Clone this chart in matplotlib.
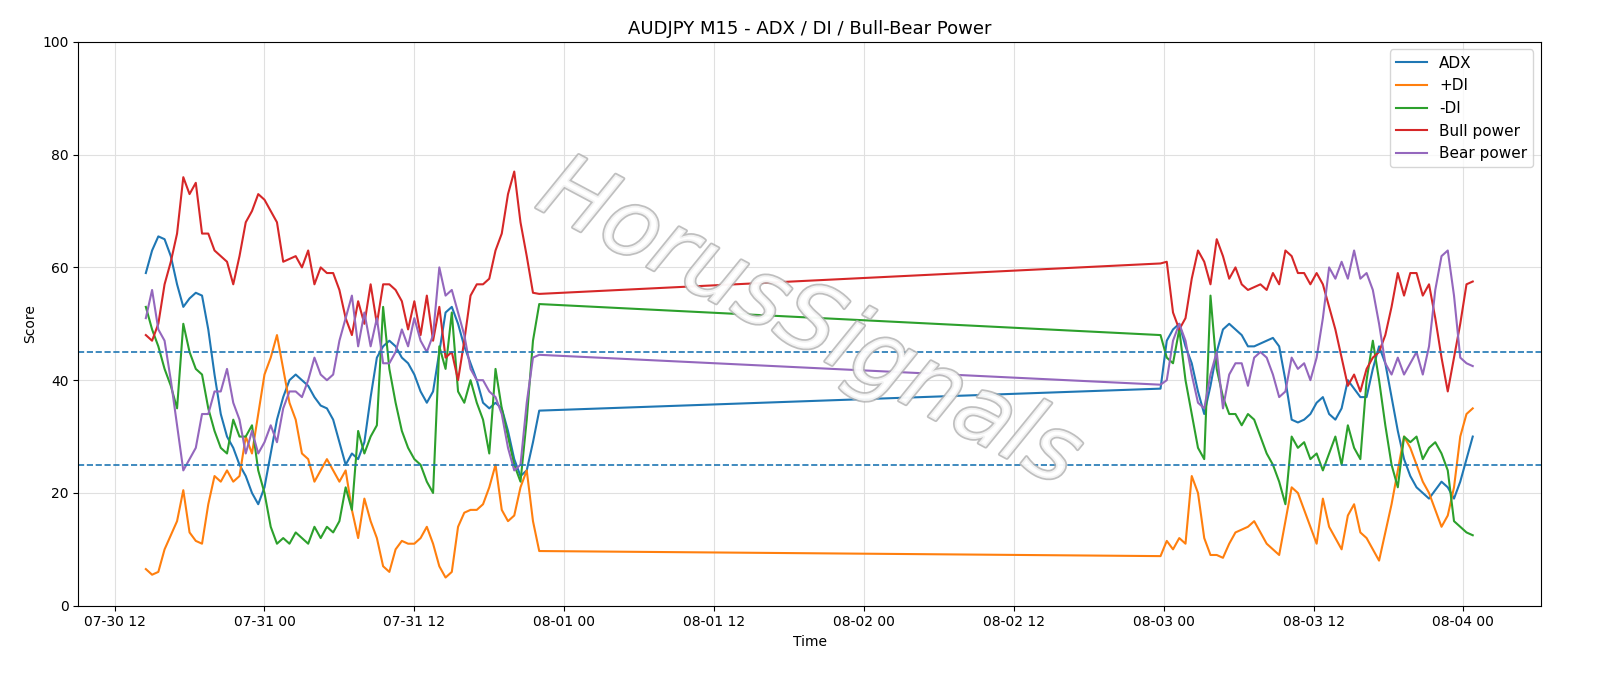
import matplotlib
matplotlib.use("Agg")
import matplotlib.pyplot as plt
import matplotlib.dates as mdates
import matplotlib.patheffects as pe
import pandas as pd
import numpy as np

adx1 = [59,63,65.5,65,62,57,53,54.5,55.5,55,49,41,34,30,28,25,23,20,18,21,27,33,37,40,41,40,39,37,35.5,35,33,29,25,27,26,29,37,44,46,47,46,44,43,41,38,36,38,45,52,53,50,46,43,40,36,35,36,35,31,26,23,24,29,34.6]
adx2 = [38.5,47,49,50,46,43,38,34,39,45,49,50,49,48,46,46,46.5,47,47.5,46,40,33,32.5,33,34,36,37,34,33,35,40,38.5,37,37,42,46,43,37,31,26,23,21,20,19,20.5,22,21,19,22,26,30]
pdi1 = [6.5,5.5,6,10,12.5,15,20.5,13,11.5,11,18,23,22,24,22,23,30,27,34,41,44,48,42,36,33,27,26,22,24,26,24,22,24,17,12,19,15,12,7,6,10,11.5,11,11,12,14,11,7,5,6,14,16.5,17,17,18,21,25,17,15,16,21,24,15,9.7]
pdi2 = [8.8,11.5,10,12,11,23,20,12,9,9,8.5,11,13,13.5,14,15,13,11,10,9,15,21,20,17,14,11,19,14,12,10,16,18,13,12,10,8,13,18,24,30,28,25,22,20,17,14,16,21,30,34,35]
mdi1 = [53,49,46,42,39,35,50,45,42,41,35,31,28,27,33,30,30,32,24,20,14,11,12,11,13,12,11,14,12,14,13,15,21,17,31,27,30,32,53,42,36,31,28,26,25,22,20,46,42,52,38,36,40,36,33,27,42,35,30,25,22,33,47,53.5]
mdi2 = [48,44,43,49,40,34,28,26,55,42,37,34,34,32,34,33,30,27,25,22,18,30,28,29,26,27,24,27,30,25,32,28,26,40,47,40,32,25,21,30,29,30,26,28,29,27,24,15,14,13,12.5]
bull1 = [48,47,50,57,61,66,76,73,75,66,66,63,62,61,57,62,68,70,73,72,70,68,61,61.5,62,60,63,57,60,59,59,56,51,48,54,50,57,50,57,57,56,54,49,54,48,55,47,53,44,45,40,47,55,57,57,58,63,66,73,77,68,62,55.5,55.3]
bull2 = [60.7,61,52,49,51,58,63,61,57,65,62,58,60,57,56,56.5,57,56,59,57,63,62,59,59,57,59,57,53,49,44,39,41,38,42,44,45,48,53,59,55,59,59,55,57,51,44,38,44,50,57,57.5]
bear1 = [51,56,49,47,40,32,24,26,28,34,34,38,38,42,36,33,27,31,27,29,32,29,35,38,38,37,40,44,41,40,41,47,51,55,46,52,46,51,43,43,45,49,46,51,47,45,48,60,55,56,52,48,42,40,40,38,37,34,28,24,25,36,44,44.5]
bear2 = [39.2,40,47,50,47,41,36,35,41,45,35,41,43,43,39,44,45,44,41,37,38,44,42,43,40,44,51,60,58,61,58,63,58,59,56,50,43,41,44,41,43,45,41,46,56,62,63,55,44,43,42.5]

t1 = pd.date_range("2025-07-30 14:30", periods=len(adx1), freq="30min")
t2 = pd.date_range("2025-08-02 23:45", periods=len(adx2), freq="30min")
t = t1.append(t2)

fig, ax = plt.subplots(figsize=(16, 6.86), dpi=100)
fig.subplots_adjust(left=0.049, right=0.963, top=0.939, bottom=0.117)
ax.plot(t, adx1 + adx2, label="ADX", lw=1.5)
ax.plot(t, pdi1 + pdi2, label="+DI", lw=1.5)
ax.plot(t, mdi1 + mdi2, label="-DI", lw=1.5)
ax.plot(t, bull1 + bull2, label="Bull power", lw=1.5)
ax.plot(t, bear1 + bear2, label="Bear power", lw=1.5)
ax.axhline(25, ls="--", color="C0", lw=1.2)
ax.axhline(45, ls="--", color="C0", lw=1.2)
ax.set_ylim(0, 100)
ax.set_xlim(pd.Timestamp("2025-07-30 09:06"), pd.Timestamp("2025-08-04 06:12"))
ax.xaxis.set_major_locator(mdates.HourLocator(byhour=[0, 12]))
ax.xaxis.set_major_formatter(mdates.DateFormatter("%m-%d %H"))
ax.grid(True, color="#e0e0e0", lw=0.8)
ax.set_xlabel("Time")
ax.set_ylabel("Score")
ax.set_title("AUDJPY M15 - ADX / DI / Bull-Bear Power", fontsize=13)
ax.legend(loc="upper right", fontsize=11)
ax.text(0.5, 0.5, "HorusSignals", transform=ax.transAxes, fontsize=66, color="white",
        alpha=0.8, rotation=-28, ha="center", va="center", fontstyle="italic",
        path_effects=[pe.withStroke(linewidth=2.5, foreground="#b0b0b0")])
fig.savefig("out.png", dpi=100)
